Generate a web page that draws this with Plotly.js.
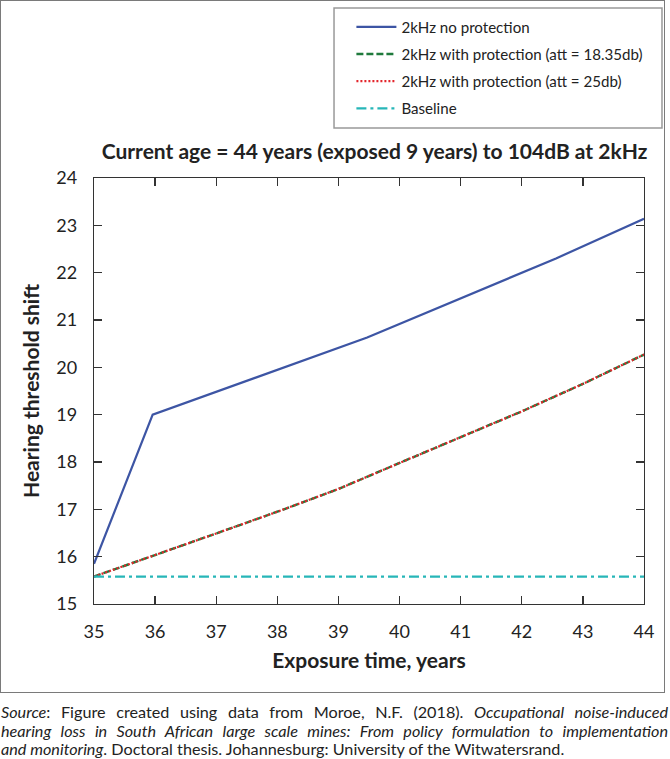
<!DOCTYPE html>
<html>
<head>
<meta charset="utf-8">
<script src="https://cdn.plot.ly/plotly-3.0.1.min.js"></script>
<style>
  html, body { margin: 0; padding: 0; background: #fff; }
  #frame { position: absolute; left: 0; top: 0; width: 663px; height: 691px; border: 1px solid #7a7a7a; }
  #chart { width: 663px; height: 691px; }
  #source { position: absolute; left: 1px; top: 703px; width: 667px; font-family: Lato, "Liberation Sans", sans-serif; font-size: 16.2px; line-height: 18.6px; color: #222; }
  #source div { text-align: justify; text-align-last: justify; white-space: nowrap; }
  #source div.last { text-align-last: left; }
</style>
</head>
<body>
<div id="frame"><div id="chart"></div></div>
<div id="source">
  <div><i>Source</i>: Figure created using data from Moroe, N.F. (2018). <i>Occupational noise-induced</i></div>
  <div><i>hearing loss in South African large scale mines: From policy formulation to implementation</i></div>
  <div class="last"><i>and monitoring</i>. Doctoral thesis. Johannesburg: University of the Witwatersrand.</div>
</div>
<script>
// ---- data ----
const seriesNames = [
  "2kHz no protection",
  "2kHz with protection (att = 18.35db)",
  "2kHz with protection (att = 25db)",
  "Baseline"
];
const noProtX = [35, 35.96, 39.47, 42.56, 44];
const noProtY = [15.85, 19.0, 20.63, 22.30, 23.14];
const years = [35, 36, 37, 38, 39, 40, 41, 42, 43, 44];
const prot1835 = [15.58, 16.03, 16.49, 16.95, 17.43, 17.98, 18.52, 19.07, 19.65, 20.27];
const prot25 = [15.58, 16.03, 16.49, 16.95, 17.43, 17.98, 18.52, 19.07, 19.65, 20.27];
const baselineX = [35, 44];
const baselineY = [15.58, 15.58];
const xTicks = [35, 36, 37, 38, 39, 40, 41, 42, 43, 44];
const yTicks = [15, 16, 17, 18, 19, 20, 21, 22, 23, 24];
const chartTitle = "Current age = 44 years (exposed 9 years) to 104dB at 2kHz";
const xTitle = "Exposure time, years";
const yTitle = "Hearing threshold shift";

const FONT = "Lato, 'Liberation Sans', sans-serif";

const traces = [
  { x: noProtX, y: noProtY, name: seriesNames[0], mode: "lines", legendgroup: "a",
    line: { color: "#3d55a4", width: 2.2 } },
  { x: years, y: prot1835, name: seriesNames[1], mode: "lines", legendgroup: "b",
    line: { color: "#1f7a3c", width: 2.4, dash: "7px,3px" } },
  { x: years, y: prot25, name: seriesNames[2], mode: "lines", legendgroup: "c",
    line: { color: "#e3262c", width: 2.2, dash: "2px,2px" } },
  { x: baselineX, y: baselineY, name: seriesNames[3], mode: "lines", legendgroup: "d",
    line: { color: "#27b6b8", width: 2.2, dash: "10px,4px,3px,4px" } }
];

const axisCommon = {
  showgrid: false, zeroline: false, showline: true, mirror: "ticks",
  linecolor: "#333", linewidth: 1.3, ticks: "inside", ticklen: 8,
  tickcolor: "#333", tickwidth: 1.3,
  tickfont: { family: FONT, size: 18, color: "#222" }
};

const layout = {
  width: 663, height: 691,
  margin: { l: 93, r: 20, t: 177, b: 88, autoexpand: false },
  paper_bgcolor: "#fff", plot_bgcolor: "#fff",
  font: { family: FONT, color: "#222" },
  showlegend: true,
  title: { text: "<b>" + chartTitle + "</b>", font: { family: FONT, size: 21, color: "#222" },
           xref: "paper", x: 0.51, xanchor: "center", yref: "container", y: 0.782, yanchor: "middle" },
  xaxis: Object.assign({}, axisCommon, {
    range: [35, 44], tickvals: xTicks, ticklabelstandoff: 11,
    title: { text: "<b>" + xTitle + "</b>", font: { family: FONT, size: 21, color: "#222" }, standoff: 12 }
  }),
  yaxis: Object.assign({}, axisCommon, {
    range: [15, 24], tickvals: yTicks, ticklabelstandoff: 12,
    title: { text: "<b>" + yTitle + "</b>", font: { family: FONT, size: 21, color: "#222" }, standoff: 11 }
  }),
  legend: {
    x: 0.468, xanchor: "left", xref: "paper",
    y: 1.393, yanchor: "top", yref: "paper",
    bgcolor: "rgba(0,0,0,0)", borderwidth: 0,
    font: { family: FONT, size: 15.1, color: "#222" },
    itemwidth: 40, tracegroupgap: 4.5, traceorder: "grouped"
  },
  shapes: [
    { type: "rect", xref: "paper", yref: "paper",
      x0: 0.4364, x1: 1.0327, y0: 1.1174, y1: 1.399,
      line: { color: "#999", width: 1.5 }, fillcolor: "rgba(0,0,0,0)", layer: "above" }
  ]
};

Plotly.newPlot("chart", traces, layout, { displayModeBar: false, staticPlot: true });
</script>
</body>
</html>
